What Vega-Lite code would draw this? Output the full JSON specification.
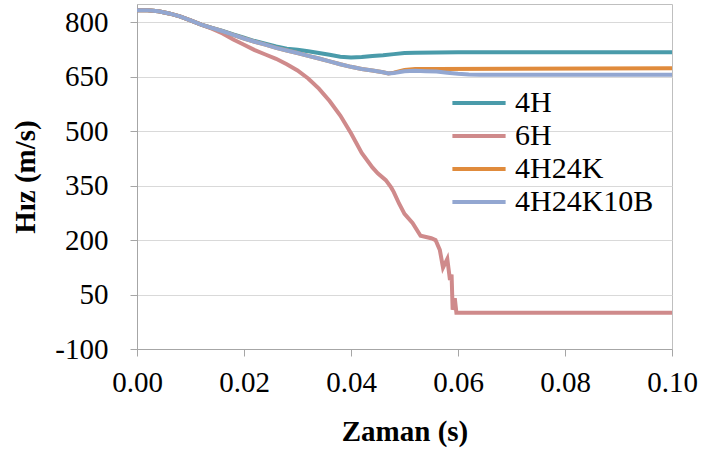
{
  "$schema": "https://vega.github.io/schema/vega-lite/v6.json",
  "width": 535,
  "height": 345,
  "autosize": {"type": "none"},
  "padding": {"left": 137, "top": 4, "right": 30, "bottom": 103},
  "background": "white",
  "config": {
    "view": {"stroke": "#BFBFBF", "strokeWidth": 1},
    "font": "Liberation Serif"
  },
  "data": {"values": [
    {"s":"4H","t":0,"v":833},{"s":"4H","t":0.002,"v":833},{"s":"4H","t":0.004,"v":830},{"s":"4H","t":0.006,"v":824},{"s":"4H","t":0.008,"v":816},{"s":"4H","t":0.010,"v":805},{"s":"4H","t":0.012,"v":793},{"s":"4H","t":0.014,"v":784},
    {"s":"4H","t":0.016,"v":776},{"s":"4H","t":0.018,"v":766},{"s":"4H","t":0.020,"v":757},{"s":"4H","t":0.022,"v":748},{"s":"4H","t":0.024,"v":741},{"s":"4H","t":0.026,"v":733},{"s":"4H","t":0.028,"v":727},{"s":"4H","t":0.030,"v":724},{"s":"4H","t":0.032,"v":720},{"s":"4H","t":0.034,"v":715},{"s":"4H","t":0.036,"v":710},{"s":"4H","t":0.038,"v":705},{"s":"4H","t":0.040,"v":703},{"s":"4H","t":0.042,"v":704},{"s":"4H","t":0.044,"v":707},{"s":"4H","t":0.046,"v":709},{"s":"4H","t":0.048,"v":712},{"s":"4H","t":0.050,"v":715},{"s":"4H","t":0.052,"v":716},{"s":"4H","t":0.060,"v":717},{"s":"4H","t":0.100,"v":717},
    {"s":"6H","t":0,"v":833},{"s":"6H","t":0.002,"v":833},{"s":"6H","t":0.004,"v":830},{"s":"6H","t":0.006,"v":824},{"s":"6H","t":0.008,"v":816},{"s":"6H","t":0.010,"v":805},{"s":"6H","t":0.012,"v":793},{"s":"6H","t":0.014,"v":782},
    {"s":"6H","t":0.016,"v":769},{"s":"6H","t":0.018,"v":752},{"s":"6H","t":0.020,"v":738},{"s":"6H","t":0.022,"v":723},{"s":"6H","t":0.024,"v":711},{"s":"6H","t":0.026,"v":699},{"s":"6H","t":0.028,"v":684},{"s":"6H","t":0.030,"v":667},{"s":"6H","t":0.032,"v":645},{"s":"6H","t":0.034,"v":617},{"s":"6H","t":0.036,"v":583},{"s":"6H","t":0.038,"v":543},{"s":"6H","t":0.040,"v":494},{"s":"6H","t":0.042,"v":440},{"s":"6H","t":0.044,"v":400},{"s":"6H","t":0.045,"v":384},{"s":"6H","t":0.0465,"v":365},{"s":"6H","t":0.0475,"v":345},{"s":"6H","t":0.048,"v":332},{"s":"6H","t":0.049,"v":300},{"s":"6H","t":0.050,"v":272},{"s":"6H","t":0.0515,"v":247},{"s":"6H","t":0.053,"v":212},{"s":"6H","t":0.055,"v":205},{"s":"6H","t":0.0558,"v":200},{"s":"6H","t":0.0566,"v":173},{"s":"6H","t":0.0572,"v":124},{"s":"6H","t":0.0580,"v":148},{"s":"6H","t":0.0585,"v":90},{"s":"6H","t":0.0588,"v":105},{"s":"6H","t":0.0590,"v":8},{"s":"6H","t":0.0594,"v":40},{"s":"6H","t":0.0597,"v":0},{"s":"6H","t":0.100,"v":0},
    {"s":"4H24K","t":0,"v":833},{"s":"4H24K","t":0.002,"v":833},{"s":"4H24K","t":0.004,"v":830},{"s":"4H24K","t":0.006,"v":824},{"s":"4H24K","t":0.008,"v":816},{"s":"4H24K","t":0.010,"v":805},{"s":"4H24K","t":0.012,"v":793},{"s":"4H24K","t":0.014,"v":784},
    {"s":"4H24K","t":0.016,"v":775},{"s":"4H24K","t":0.018,"v":765},{"s":"4H24K","t":0.020,"v":755},{"s":"4H24K","t":0.022,"v":746},{"s":"4H24K","t":0.024,"v":738},{"s":"4H24K","t":0.026,"v":729},{"s":"4H24K","t":0.028,"v":722},{"s":"4H24K","t":0.030,"v":715},{"s":"4H24K","t":0.032,"v":707},{"s":"4H24K","t":0.034,"v":700},{"s":"4H24K","t":0.036,"v":692},{"s":"4H24K","t":0.038,"v":684},{"s":"4H24K","t":0.040,"v":677},{"s":"4H24K","t":0.042,"v":671},{"s":"4H24K","t":0.044,"v":667},{"s":"4H24K","t":0.046,"v":662},{"s":"4H24K","t":0.047,"v":659},{"s":"4H24K","t":0.048,"v":661},{"s":"4H24K","t":0.050,"v":668},{"s":"4H24K","t":0.052,"v":671},{"s":"4H24K","t":0.056,"v":671},{"s":"4H24K","t":0.070,"v":672},{"s":"4H24K","t":0.100,"v":673},
    {"s":"4H24K10B","t":0,"v":833},{"s":"4H24K10B","t":0.002,"v":833},{"s":"4H24K10B","t":0.004,"v":830},{"s":"4H24K10B","t":0.006,"v":824},{"s":"4H24K10B","t":0.008,"v":816},{"s":"4H24K10B","t":0.010,"v":805},{"s":"4H24K10B","t":0.012,"v":793},{"s":"4H24K10B","t":0.014,"v":784},
    {"s":"4H24K10B","t":0.016,"v":775},{"s":"4H24K10B","t":0.018,"v":765},{"s":"4H24K10B","t":0.020,"v":755},{"s":"4H24K10B","t":0.022,"v":746},{"s":"4H24K10B","t":0.024,"v":738},{"s":"4H24K10B","t":0.026,"v":729},{"s":"4H24K10B","t":0.028,"v":722},{"s":"4H24K10B","t":0.030,"v":715},{"s":"4H24K10B","t":0.032,"v":707},{"s":"4H24K10B","t":0.034,"v":700},{"s":"4H24K10B","t":0.036,"v":692},{"s":"4H24K10B","t":0.038,"v":684},{"s":"4H24K10B","t":0.040,"v":677},{"s":"4H24K10B","t":0.042,"v":671},{"s":"4H24K10B","t":0.044,"v":667},{"s":"4H24K10B","t":0.046,"v":662},{"s":"4H24K10B","t":0.047,"v":659},{"s":"4H24K10B","t":0.048,"v":660},{"s":"4H24K10B","t":0.050,"v":665},{"s":"4H24K10B","t":0.052,"v":666},{"s":"4H24K10B","t":0.054,"v":665},{"s":"4H24K10B","t":0.056,"v":664},{"s":"4H24K10B","t":0.058,"v":661},{"s":"4H24K10B","t":0.060,"v":658},{"s":"4H24K10B","t":0.062,"v":656},{"s":"4H24K10B","t":0.064,"v":655},{"s":"4H24K10B","t":0.100,"v":655}
  ]},
  "mark": {"type": "line", "strokeWidth": 4, "clip": true},
  "encoding": {
    "x": {
      "field": "t", "type": "quantitative",
      "scale": {"domain": [0, 0.1], "nice": false, "zero": false},
      "axis": {
        "title": "Zaman (s)", "values": [0, 0.02, 0.04, 0.06, 0.08, 0.1], "format": ".2f",
        "grid": false, "labelFlush": false, "domainColor": "#A6A6A6", "tickColor": "#A6A6A6", "tickSize": 7,
        "labelFontSize": 29, "labelColor": "#000000", "labelPadding": 12, "labelFont": "Liberation Serif",
        "titleFontSize": 29, "titleFontWeight": "bold", "titleColor": "#000000", "titlePadding": 20, "titleFont": "Liberation Serif"
      }
    },
    "y": {
      "field": "v", "type": "quantitative",
      "scale": {"domain": [-100, 850], "nice": false, "zero": false},
      "axis": {
        "title": "Hız (m/s)", "values": [-100, 50, 200, 350, 500, 650, 800],
        "labelExpr": "'' + datum.value", "labelFlush": false,
        "grid": true, "gridColor": "#D9D9D9", "gridWidth": 1,
        "domainColor": "#A6A6A6", "tickColor": "#A6A6A6", "tickSize": 7,
        "labelFontSize": 29, "labelColor": "#000000", "labelPadding": 22, "labelFont": "Liberation Serif",
        "titleFontSize": 29, "titleFontWeight": "bold", "titleColor": "#000000", "titlePadding": 14, "titleFont": "Liberation Serif"
      }
    },
    "color": {
      "field": "s", "type": "nominal",
      "scale": {"domain": ["4H", "6H", "4H24K", "4H24K10B"], "range": ["#4A9BAA", "#CF8A8B", "#E08B3C", "#93A7D1"]},
      "legend": {
        "title": null, "orient": "none", "legendX": 327, "legendY": 84, "padding": 0,
        "symbolType": "M-2.8,0H2.8", "symbolSize": 361, "symbolStrokeWidth": 4,
        "labelOffset": 21, "labelFontSize": 30, "labelFont": "Liberation Serif", "labelColor": "#000000",
        "rowPadding": 3, "labelLimit": 300
      }
    }
  }
}
